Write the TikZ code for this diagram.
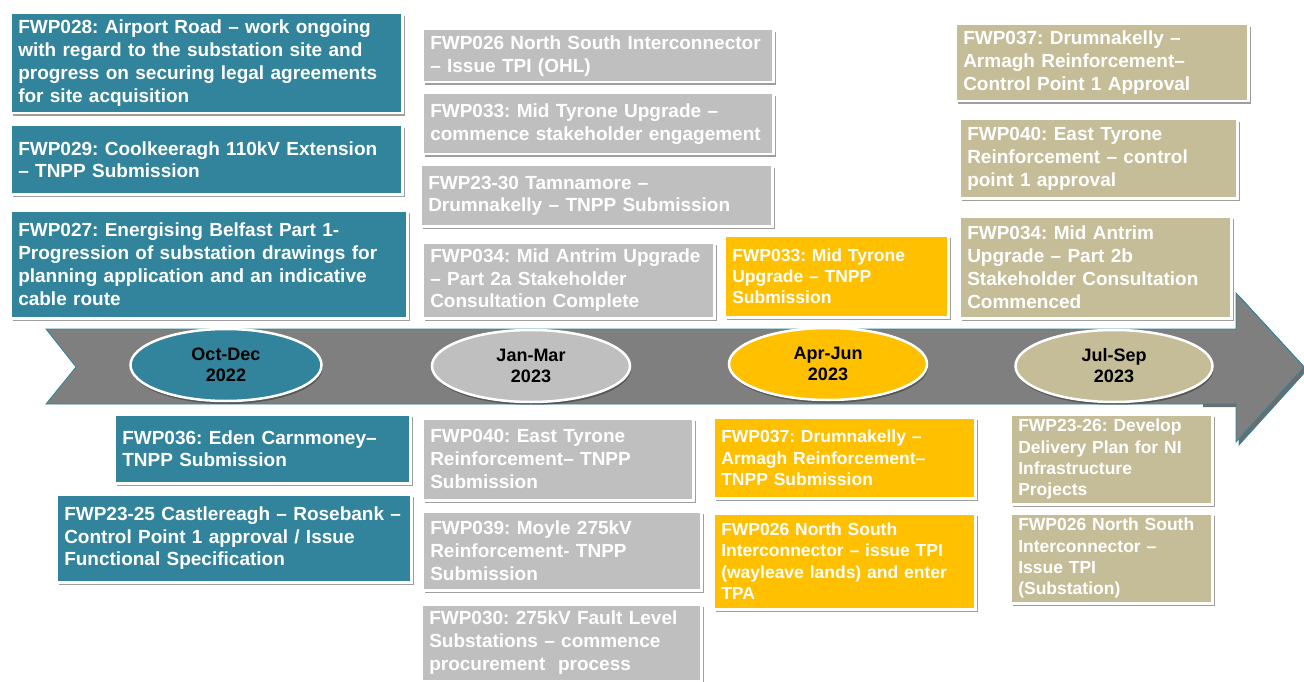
\documentclass[tikz,border=0pt]{standalone}
\usepackage{fontspec}
\setmainfont{Liberation Sans}
\frenchspacing
\usetikzlibrary{shapes.geometric,shadows}
\definecolor{fwpteal}{HTML}{31849B}
\definecolor{fwpgrey}{HTML}{BFBFBF}
\definecolor{fwpyellow}{HTML}{FFC000}
\definecolor{fwptan}{HTML}{C4BD97}
\definecolor{arrowgrey}{HTML}{7F7F7F}
\tikzset{
  fwp/.style={rectangle, anchor=north west, draw=white, line width=2.5pt,
    text=white, align=left, inner xsep=8pt, inner ysep=2pt,
    font=\fontsize{19}{22.8}\selectfont\bfseries,
    drop shadow={shadow xshift=3pt, shadow yshift=-3pt, fill=black!38, opacity=1}},
  fwpsmall/.style={font=\fontsize{17.5}{21.4}\selectfont\bfseries},
  quarter/.style={ellipse, draw=white, line width=2.5pt, minimum width=198pt,
    minimum height=72pt, inner sep=0pt, align=center, text=black,
    font=\fontsize{18}{21}\selectfont\bfseries,
    drop shadow={shadow xshift=1pt, shadow yshift=-3pt, fill=black, opacity=.3}}
}
\begin{document}
\begin{tikzpicture}[x=1pt,y=-1pt]
  \useasboundingbox (0,0) rectangle (1304,682);
  \begin{scope}[shift={(3,3)}]
    \fill[arrowgrey!85!black]
      (1200,329) -- (1236,329) -- (1236,293) -- (1304,367) -- (1236,442)
      -- (1236,404) -- (1200,404) -- cycle;
    \draw[fwpteal, line width=0.8pt] (1236,293) -- (1304,367) -- (1236,442) -- (1236,404);
  \end{scope}
  \filldraw[fill=arrowgrey, draw=fwpteal, line width=0.8pt]
    (46,329) -- (1236,329) -- (1236,293) -- (1304,367) -- (1236,442)
    -- (1236,404) -- (46,404) -- (76,367) -- cycle;
  \path
    (226,365) node[quarter, fill=fwpteal, minimum width=191pt] (q1) {Oct-Dec\\2022}
    (531,366) node[quarter, fill=fwpgrey] (q2) {Jan-Mar\\2023}
    (828,364) node[quarter, fill=fwpyellow] (q3) {Apr-Jun\\2023}
    (1114,366) node[quarter, fill=fwptan, minimum width=197pt] (q4) {Jul-Sep\\2023};
  \path
    (9,12) node[fwp, fill=fwpteal, text width=376pt, minimum height=100pt] (t1)
      {FWP028: Airport Road -- work ongoing\\with regard to the substation site and\\progress on securing legal agreements\\for site acquisition}
    (9,124) node[fwp, fill=fwpteal, text width=376pt, minimum height=69pt] (t2)
      {FWP029: Coolkeeragh 110kV Extension\\-- TNPP Submission}
    (9,209) node[fwp, fill=fwpteal, text width=381pt, minimum height=108pt] (t3)
      {FWP027: Energising Belfast Part 1-\\Progression of substation drawings for\\planning application and an indicative\\cable route};
  \path
    (421,28) node[fwp, fill=fwpgrey, text width=335pt, minimum height=53pt] (g1)
      {FWP026 North South Interconnector\\-- Issue TPI (OHL)}
    (421,92) node[fwp, fill=fwpgrey, text width=335pt, minimum height=61pt] (g2)
      {FWP033: Mid Tyrone Upgrade --\\commence stakeholder engagement}
    (419,164) node[fwp, fill=fwpgrey, text width=336pt, minimum height=61pt] (g3)
      {FWP23-30 Tamnamore --\\Drumnakelly -- TNPP Submission}
    (421,241) node[fwp, fill=fwpgrey, text width=276pt, minimum height=76pt] (g4)
      {FWP034: Mid Antrim Upgrade\\-- Part 2a Stakeholder\\Consultation Complete};
  \path
    (723,234) node[fwp, fwpsmall, fill=fwpyellow, text width=208pt, minimum height=82pt] (y1)
      {FWP033: Mid Tyrone\\Upgrade -- TNPP\\Submission};
  \path
    (954,23) node[fwp, fill=fwptan, text width=277pt, minimum height=77pt] (n1)
      {FWP037: Drumnakelly --\\Armagh Reinforcement--\\Control Point 1 Approval}
    (958,118) node[fwp, fill=fwptan, text width=262pt, minimum height=79pt] (n2)
      {FWP040: East Tyrone\\Reinforcement -- control\\point 1 approval}
    (958,215) node[fwp, fill=fwptan, text width=256pt, minimum height=102pt] (n3)
      {FWP034: Mid Antrim\\Upgrade -- Part 2b\\Stakeholder Consultation\\Commenced};
  \path
    (113,413) node[fwp, fill=fwpteal, text width=280pt, minimum height=69pt] (b1)
      {FWP036: Eden Carnmoney--\\TNPP Submission}
    (55,493) node[fwp, fill=fwpteal, text width=339pt, minimum height=88pt] (b2)
      {FWP23-25 Castlereagh -- Rosebank --\\Control Point 1 approval / Issue\\Functional Specification};
  \path
    (421,417) node[fwp, fill=fwpgrey, text width=255pt, minimum height=82pt] (c1)
      {FWP040: East Tyrone\\Reinforcement-- TNPP\\Submission}
    (421,510) node[fwp, fill=fwpgrey, text width=263pt, minimum height=79pt] (c2)
      {FWP039: Moyle 275kV\\Reinforcement- TNPP\\Submission}
    (420,603) node[fwp, fill=fwpgrey, text width=264pt, minimum height=77pt] (c3)
      {FWP030: 275kV Fault Level\\Substations -- commence\\procurement\ \ process};
  \path
    (712,416) node[fwp, fwpsmall, fill=fwpyellow, text width=246pt, minimum height=81pt] (d1)
      {FWP037: Drumnakelly --\\Armagh Reinforcement--\\TNPP Submission}
    (712,512) node[fwp, fwpsmall, fill=fwpyellow, text width=246pt, minimum height=96pt] (d2)
      {FWP026 North South\\Interconnector -- issue TPI\\(wayleave lands) and enter\\TPA};
  \path
    (1009,413) node[fwp, fwpsmall, fill=fwptan, text width=186pt, minimum height=90pt] (e1)
      {FWP23-26: Develop\\Delivery Plan for NI\\Infrastructure\\Projects}
    (1009,512) node[fwp, fwpsmall, fill=fwptan, text width=186pt, minimum height=90pt] (e2)
      {FWP026 North South\\Interconnector --\\Issue TPI\\(Substation)};
\end{tikzpicture}
\end{document}
